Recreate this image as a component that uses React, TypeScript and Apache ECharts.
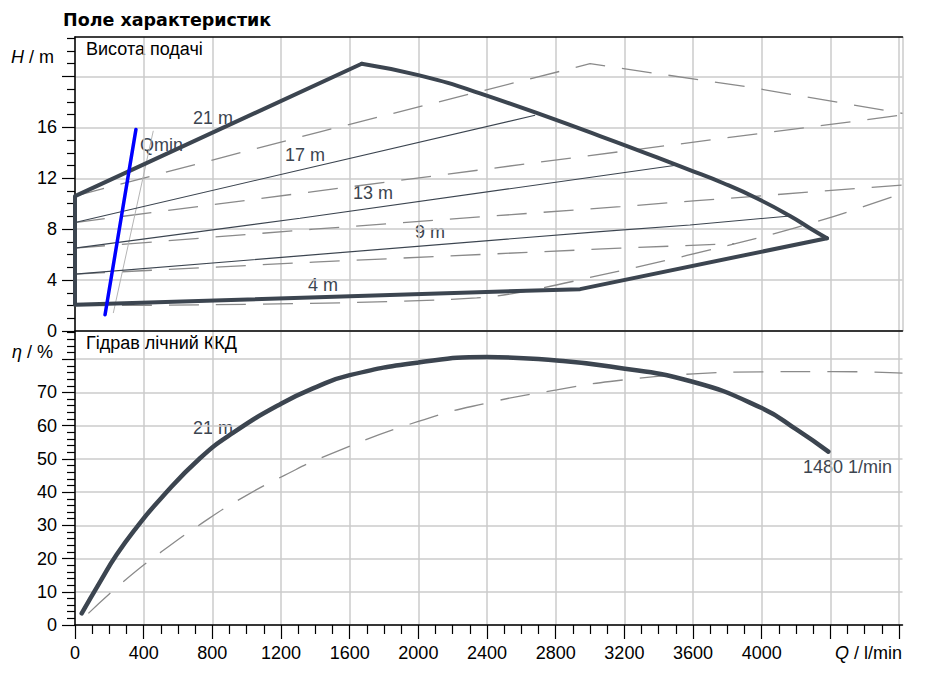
import React, { useEffect, useRef } from 'react';
import * as echarts from 'echarts';

// ---------- axis ticks / labels ----------
const xTicks = [0, 400, 800, 1200, 1600, 2000, 2400, 2800, 3200, 3600, 4000, 4400, 4800];
const xLabels = [0, 400, 800, 1200, 1600, 2000, 2400, 2800, 3200, 3600, 4000];
const hTicks = [0, 4, 8, 12, 16, 20];
const hLabels = [0, 4, 8, 12, 16];
const etaTicks = [0, 10, 20, 30, 40, 50, 60, 70, 80];
const etaLabels = [0, 10, 20, 30, 40, 50, 60, 70];

// ---------- head field (H / m vs Q / l/min) ----------
// straight parts of the operating envelope (bottom, left edge, rising top)
const envelopeStraight = [[4380, 7.29], [2942, 3.29], [0, 2.06], [0, 10.6], [1670, 21.0]];
// curved falling part of the envelope
const envelopeCurve = [
  [1670, 21.0], [2000, 20.1], [2359, 18.67], [3058, 15.32], [3582, 12.64], [3777, 11.61],
  [3971, 10.43], [4165, 9.04], [4281, 8.08], [4380, 7.29],
];
const head17 = [[0, 8.52], [1311, 12.65], [2680, 16.95]];
const head13 = [[0, 6.51], [1311, 8.86], [3058, 12.18], [3490, 13.0]];
const head9 = [[0, 4.47], [1311, 5.9], [3058, 7.81], [3582, 8.33], [4165, 9.04]];

const altTop = [[0, 10.6], [1427, 15.65], [3000, 21.0], [3932, 19.15], [4820, 17.1]];
const alt17 = [[0, 8.52], [1388, 10.95], [3175, 14.09], [4820, 16.97]];
const alt13 = [[0, 6.51], [1388, 8.0], [3175, 9.77], [3621, 10.24], [4820, 11.47]];
const alt9 = [[0, 4.47], [1388, 5.41], [3175, 6.51], [3840, 6.86]];
const altBottom = [[0, 2.0], [2340, 2.6], [3155, 4.67], [3971, 7.29], [4417, 8.99], [4820, 10.82]];

const qmin = [[175, 1.28], [355, 15.84]];
const qminAlt = [[223, 1.41], [456, 15.73]];

// ---------- efficiency (η / %) ----------
const etaMain = [
  [39, 3.5], [146, 13], [243, 21.2], [359, 29.4], [495, 37.8], [728, 50.2],
  [922, 57.9], [1200, 66.6], [1408, 71.7], [1600, 75.2], [2000, 79.0], [2398, 80.65], [2806, 79.6],
  [3117, 77.8], [3592, 73.3], [4000, 65.3], [4204, 58.8], [4388, 52.2],
];
const etaAlt = [
  [78, 3.5], [281, 13], [505, 22.1], [738, 30.6], [971, 38.2], [1214, 44.9], [1476, 51.2],
  [2000, 61.3], [2398, 66.8], [2806, 70.8], [3117, 73.3], [3602, 75.6], [4000, 76.2], [4417, 76.3],
  [4820, 75.8],
];

const X_MAX = 4820;
const H_MAX = 23.1;
const ETA_MAX = 88.5;

const FONT = "'Liberation Sans', Arial, sans-serif";
const FS = 18;
const DARK = '#3c4550';
const GRIDC = '#cbcbcb';
const DASHC = '#8a8a8a';
const DASH = [30, 17];

function minorList(max: number, step: number, major: number) {
  const out: number[] = [];
  for (let v = step; v < max; v += step) {
    if (Math.abs(v / major - Math.round(v / major)) > 1e-6) out.push(v);
  }
  return out;
}

function line(data: number[][], xi: number, yi: number, lineStyle: any, smooth: boolean | number = false) {
  return {
    type: 'line',
    data,
    xAxisIndex: xi,
    yAxisIndex: yi,
    showSymbol: false,
    symbol: 'none',
    silent: true,
    smooth,
    lineStyle,
  };
}

function txt(x: number, y: number, text: string, opts: any = {}) {
  return {
    type: 'text',
    x,
    y,
    silent: true,
    style: {
      text,
      fontSize: FS,
      fontFamily: FONT,
      fill: opts.fill || '#000',
      verticalAlign: 'middle',
      align: opts.align || 'left',
      fontWeight: opts.fontWeight || 'normal',
      rich: opts.rich,
      ...(opts.style || {}),
    },
  };
}

export default function App() {
  const ref = useRef<HTMLDivElement>(null);

  useEffect(() => {
    const chart = echarts.init(ref.current as HTMLDivElement, null, { renderer: 'svg' });

    const labelStyle = { fontSize: FS, color: '#000', fontFamily: FONT };
    const thin = { color: DARK, width: 1.1 };
    const dashed = { color: DASHC, width: 1.3, type: DASH };
    const thick = { color: DARK, width: 4, join: 'round', cap: 'round' };
    const italic = { i: { fontStyle: 'italic', fontSize: FS, fontFamily: FONT } };

    const option: any = {
      animation: false,
      backgroundColor: '#fff',
      grid: [
        { left: 75, right: 22.5, top: 37, height: 294 },
        { left: 75, right: 22.5, top: 331, height: 294 },
      ],
      xAxis: [
        {
          gridIndex: 0, type: 'value', min: 0, max: X_MAX, interval: 400, position: 'bottom',
          axisLine: { show: true, onZero: false, lineStyle: { color: '#000', width: 1.5 } },
          axisTick: { show: false }, axisLabel: { show: false },
          splitLine: { show: true, lineStyle: { color: GRIDC, width: 1.5 } },
        },
        {
          gridIndex: 0, type: 'value', min: 0, max: X_MAX, position: 'top',
          axisLine: { show: true, onZero: false, lineStyle: { color: '#000', width: 1.5 } },
          axisTick: { show: false }, axisLabel: { show: false }, splitLine: { show: false },
        },
        {
          gridIndex: 1, type: 'value', min: 0, max: X_MAX, interval: 400, position: 'bottom',
          axisLine: { show: true, onZero: false, lineStyle: { color: '#000', width: 1.5 } },
          axisTick: { show: true, length: 14, customValues: xTicks, lineStyle: { color: '#000', width: 1.2 } },
          axisLabel: {
            ...labelStyle, margin: 19,
            formatter: (v: number) => (xLabels.includes(v) ? String(v) : ''),
          },
          splitLine: { show: true, lineStyle: { color: GRIDC, width: 1.5 } },
        },
        {
          gridIndex: 1, type: 'value', min: 0, max: X_MAX, interval: 100, position: 'bottom',
          axisLine: { show: false, onZero: false },
          axisTick: { show: true, length: 9, customValues: minorList(4800, 100, 400), lineStyle: { color: '#000', width: 1.2 } },
          axisLabel: { show: false }, splitLine: { show: false },
        },
      ],
      yAxis: [
        {
          gridIndex: 0, type: 'value', min: 0, max: H_MAX, interval: 4, position: 'left',
          axisLine: { show: true, onZero: false, lineStyle: { color: '#000', width: 1.5 } },
          axisTick: { show: true, length: 13, customValues: hTicks, lineStyle: { color: '#000', width: 1.2 } },
          axisLabel: { ...labelStyle, margin: 18, formatter: (v: number) => (hLabels.includes(v) ? String(v) : '') },
          splitLine: { show: true, lineStyle: { color: GRIDC, width: 1.5 } },
        },
        {
          gridIndex: 0, type: 'value', min: 0, max: H_MAX, interval: 1, position: 'left',
          axisLine: { show: false, onZero: false },
          axisTick: { show: true, length: 8, customValues: minorList(23.5, 1, 4), lineStyle: { color: '#000', width: 1.2 } },
          axisLabel: { show: false }, splitLine: { show: false },
        },
        {
          gridIndex: 1, type: 'value', min: 0, max: ETA_MAX, interval: 10, position: 'left',
          axisLine: { show: true, onZero: false, lineStyle: { color: '#000', width: 1.5 } },
          axisTick: { show: true, length: 13, customValues: etaTicks, lineStyle: { color: '#000', width: 1.2 } },
          axisLabel: { ...labelStyle, margin: 18, formatter: (v: number) => (etaLabels.includes(v) ? String(v) : '') },
          splitLine: { show: true, lineStyle: { color: GRIDC, width: 1.5 } },
        },
        {
          gridIndex: 1, type: 'value', min: 0, max: ETA_MAX, interval: 2, position: 'left',
          axisLine: { show: false, onZero: false },
          axisTick: { show: true, length: 8, customValues: minorList(88.5, 2, 10), lineStyle: { color: '#000', width: 1.2 } },
          axisLabel: { show: false }, splitLine: { show: false },
        },
      ],
      series: [
        line(altTop, 0, 0, dashed),
        line(alt17, 0, 0, dashed),
        line(alt13, 0, 0, dashed),
        line(alt9, 0, 0, dashed),
        line(altBottom, 0, 0, dashed, 0.3),
        line(qminAlt, 0, 0, { color: '#b4b4b4', width: 1 }),
        line(head17, 0, 0, thin),
        line(head13, 0, 0, thin),
        line(head9, 0, 0, thin),
        line(envelopeStraight, 0, 0, thick),
        line(envelopeCurve, 0, 0, thick, 0.5),
        line(qmin, 0, 0, { color: '#0000ff', width: 3.5, cap: 'round' }),
        line(etaAlt, 2, 2, dashed, 0.5),
        line(etaMain, 2, 2, { color: DARK, width: 4.5, cap: 'round' }, 0.5),
      ],
      graphic: [
        txt(63, 20, 'Поле характеристик', { fontWeight: 'bold', style: { fontFamily: "'DejaVu Sans', Verdana, sans-serif", fontSize: 17.5 } }),
        txt(11, 57, '{i|H} / m', { rich: italic }),
        txt(12, 352, '{i|η} / %', { rich: italic }),
        txt(902, 653, '{i|Q} / l/min', { align: 'right', rich: italic }),
        txt(86, 49, 'Висота подачі'),
        txt(86, 343, 'Гідрав лічний ККД'),
        txt(193, 118, '21 m', { fill: DARK }),
        txt(140, 145, 'Qmin', { fill: DARK }),
        txt(285, 155, '17 m', { fill: DARK }),
        txt(353, 193, '13 m', { fill: DARK }),
        txt(415, 231.5, '9 m', { fill: DARK }),
        txt(308, 285, '4 m', { fill: DARK }),
        txt(193, 428, '21 m', { fill: DARK }),
        txt(803, 466.5, '1480 1/min', { fill: DARK }),
      ],
    };

    chart.setOption(option);
    return () => chart.dispose();
  }, []);

  return (
    <div
      ref={ref}
      style={{ position: 'fixed', left: 0, top: 0, width: 925, height: 682, background: '#fff' }}
    />
  );
}
